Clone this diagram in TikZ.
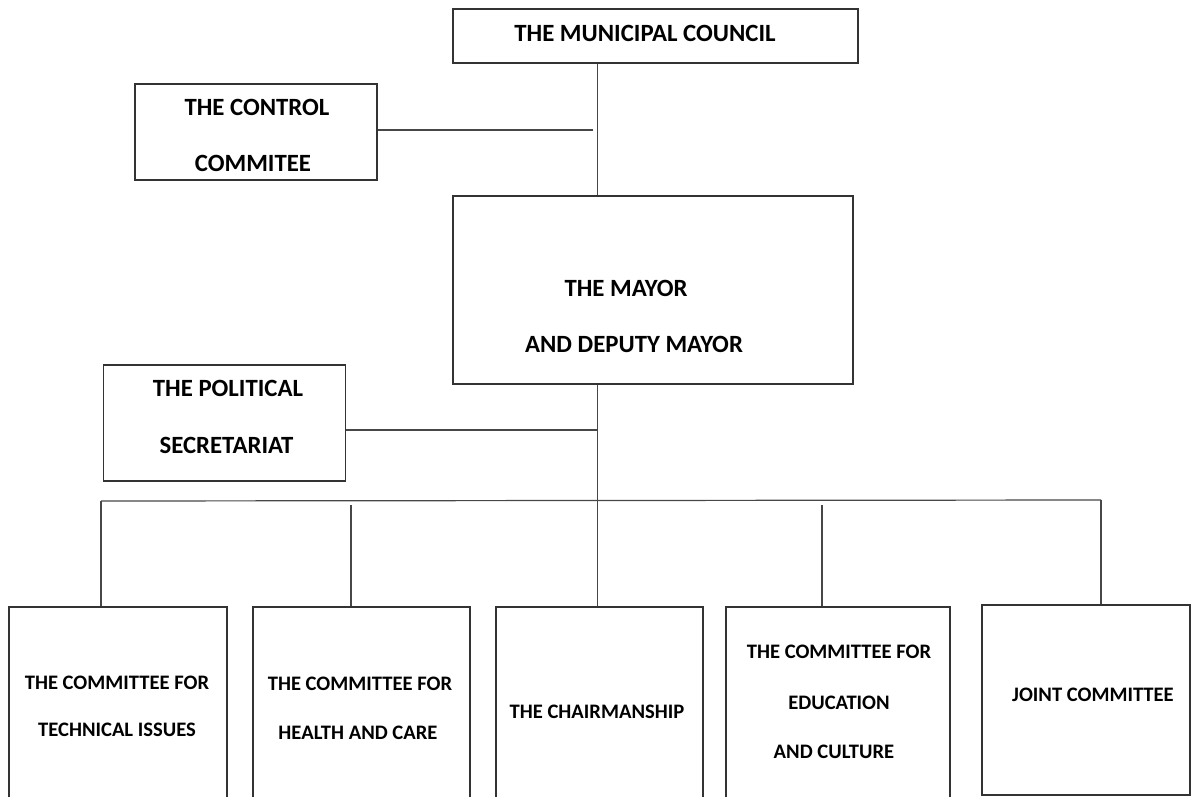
\documentclass[tikz,border=0pt]{standalone}
\usepackage{fontspec}
\setmainfont{Carlito}
\tikzset{
  box/.style={draw=black!80, line width=1.3pt, rectangle, inner sep=0pt},
  link/.style={draw=black!72, line width=1.2pt},
  toptxt/.style={font=\bfseries\fontsize{24.8}{28}\selectfont, inner sep=0pt, text=black},
  bottxt/.style={font=\bfseries\fontsize{20.6}{24}\selectfont, inner sep=0pt, text=black},
}
\begin{document}
\begin{tikzpicture}[x=1pt,y=-1pt]
\useasboundingbox (0,0) rectangle (1191,797);
\clip (0,0) rectangle (1191,797);
% boxes
\node[box, minimum width=405pt, minimum height=54pt] (council) at (655.5,36) {};
\node[box, minimum width=242pt, minimum height=96pt] (control) at (256,132) {};
\node[box, minimum width=400pt, minimum height=188pt] (mayor) at (653,290) {};
\node[box, minimum width=242pt, minimum height=116pt] (secr) at (224.5,423) {};
\node[box, minimum width=218pt, minimum height=213pt] (tech) at (118,713.5) {};
\node[box, minimum width=217pt, minimum height=213pt] (health) at (361.5,713.5) {};
\node[box, minimum width=207pt, minimum height=213pt] (chair) at (599.5,713.5) {};
\node[box, minimum width=224pt, minimum height=213pt] (edu) at (838,713.5) {};
\node[box, minimum width=208pt, minimum height=190pt] (joint) at (1086,700) {};
% texts
\node[toptxt] (tcouncil) at (645,33) {THE MUNICIPAL COUNCIL};
\node[toptxt] (tcontrol1) at (257,107) {THE CONTROL};
\node[toptxt] (tcontrol2) at (253,163) {COMMITEE};
\node[toptxt] (tmayor1) at (626,288) {THE MAYOR};
\node[toptxt] (tmayor2) at (634,344) {AND DEPUTY MAYOR};
\node[toptxt] (tsecr1) at (228,388) {THE POLITICAL};
\node[toptxt] (tsecr2) at (226.5,445) {SECRETARIAT};
\node[bottxt] (ttech1) at (117,683) {THE COMMITTEE FOR};
\node[bottxt] (ttech2) at (117,730) {TECHNICAL ISSUES};
\node[bottxt] (thealth1) at (360,684) {THE COMMITTEE FOR};
\node[bottxt] (thealth2) at (358,733) {HEALTH AND CARE};
\node[bottxt] (tchair) at (597,712) {THE CHAIRMANSHIP};
\node[bottxt] (tedu1) at (839,652) {THE COMMITTEE FOR};
\node[bottxt] (tedu2) at (839,703) {EDUCATION};
\node[bottxt] (tedu3) at (834,752) {AND CULTURE};
\node[bottxt] (tjoint) at (1093,695) {JOINT COMMITTEE};
% junction coordinates
\coordinate (spine) at (597.5,0);
\coordinate (cj) at (593,130);
\coordinate (sj) at (597.5,430);
\coordinate (busL) at (101,501);
\coordinate (busR) at (1101,500);
\coordinate (d2) at (351,505);
\coordinate (d4) at (822,505);
% connectors
\draw[link] (spine |- council.south) -- (spine |- mayor.north);
\draw[link] (control.east |- cj) -- (cj);
\draw[link] (spine |- mayor.south) -- (spine |- chair.north);
\draw[link] (secr.east |- sj) -- (sj);
\draw[link] (busL) -- (busR);
\draw[link] (busL) -- (busL |- tech.north);
\draw[link] (d2) -- (d2 |- health.north);
\draw[link] (d4) -- (d4 |- edu.north);
\draw[link] (busR) -- (busR |- joint.north);
\end{tikzpicture}
\end{document}
